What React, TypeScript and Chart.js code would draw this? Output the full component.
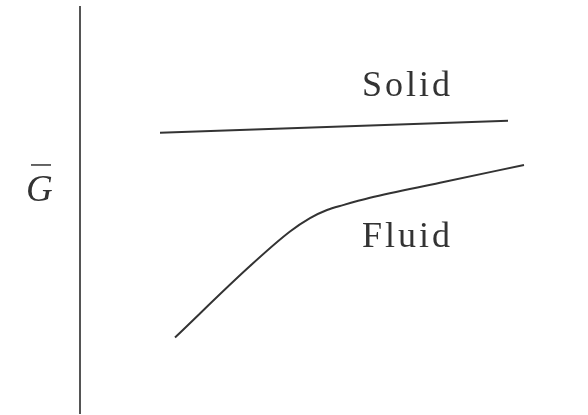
import React, { useEffect, useRef } from "react";
import { Chart, registerables } from "chart.js";

Chart.register(...registerables);

// Schematic curves (arbitrary units, x: 0-10, y: 0-10)
const solidX = [1.6, 8.56];
const solidY = [6.9, 7.2];

const fluidX = [1.9, 3.4, 4.2, 4.6, 4.94, 5.26, 5.8, 7.2, 8.88];
const fluidY = [1.86, 3.62, 4.47, 4.8, 5.0, 5.12, 5.3, 5.67, 6.11];

const curveLabels = ["Solid", "Fluid"];
const curveLabelX = [5.64, 5.64];
const curveLabelY = [7.8, 4.09];

const axisLabel = "G";
const axisLabelY = 5.21;

const INK = "#333333";

export default function App() {
  const ref = useRef<HTMLCanvasElement | null>(null);

  useEffect(() => {
    if (!ref.current) return;
    const labelPlugin = {
      id: "labels",
      afterDraw(chart: any) {
        const { ctx, scales, chartArea } = chart;
        const xs = scales.x;
        const ys = scales.y;
        ctx.save();
        ctx.fillStyle = INK;
        ctx.textAlign = "left";
        ctx.textBaseline = "alphabetic";
        ctx.font = '36px "Liberation Serif"';
        (ctx as any).letterSpacing = "3px";
        curveLabels.forEach((t, i) => {
          ctx.fillText(t, xs.getPixelForValue(curveLabelX[i]), ys.getPixelForValue(curveLabelY[i]));
        });
        (ctx as any).letterSpacing = "0px";
        // axis label with overbar
        ctx.font = 'italic 37px "Liberation Serif"';
        const gx = chartArea.left - 54;
        const gy = ys.getPixelForValue(axisLabelY);
        ctx.fillText(axisLabel, gx, gy);
        ctx.strokeStyle = INK;
        ctx.lineWidth = 1.5;
        ctx.beginPath();
        ctx.moveTo(gx + 5, gy - 36.5);
        ctx.lineTo(gx + 25, gy - 36.5);
        ctx.stroke();
        ctx.restore();
      },
    };

    const chart = new Chart(ref.current, {
      type: "line",
      data: {
        datasets: [
          {
            label: "Solid",
            data: solidX.map((x, i) => ({ x, y: solidY[i] })),
            borderColor: INK,
            borderWidth: 2,
            pointRadius: 0,
            tension: 0,
            fill: false,
          },
          {
            label: "Fluid",
            data: fluidX.map((x, i) => ({ x, y: fluidY[i] })),
            borderColor: INK,
            borderWidth: 2,
            pointRadius: 0,
            cubicInterpolationMode: "monotone",
            fill: false,
          },
        ],
      },
      options: {
        responsive: false,
        animation: false,
        layout: { padding: { left: 80, right: 8, top: 7, bottom: 2 } },
        plugins: {
          legend: { display: false },
          tooltip: { enabled: false },
          title: { display: false },
        },
        scales: {
          x: {
            type: "linear",
            min: 0,
            max: 10,
            display: false,
          },
          y: {
            type: "linear",
            min: 0,
            max: 10,
            display: true,
            ticks: { display: false },
            grid: { display: false, drawTicks: false },
            border: { display: true, color: "#555555", width: 2 },
            afterFit: (s: any) => {
              s.width = 0;
            },
          },
        },
      },
      plugins: [labelPlugin],
    } as any);
    return () => chart.destroy();
  }, []);

  return (
    <div style={{ position: "absolute", left: 0, top: 0, width: 588, height: 415, background: "#fff" }}>
      <canvas ref={ref} width={588} height={415} />
    </div>
  );
}
